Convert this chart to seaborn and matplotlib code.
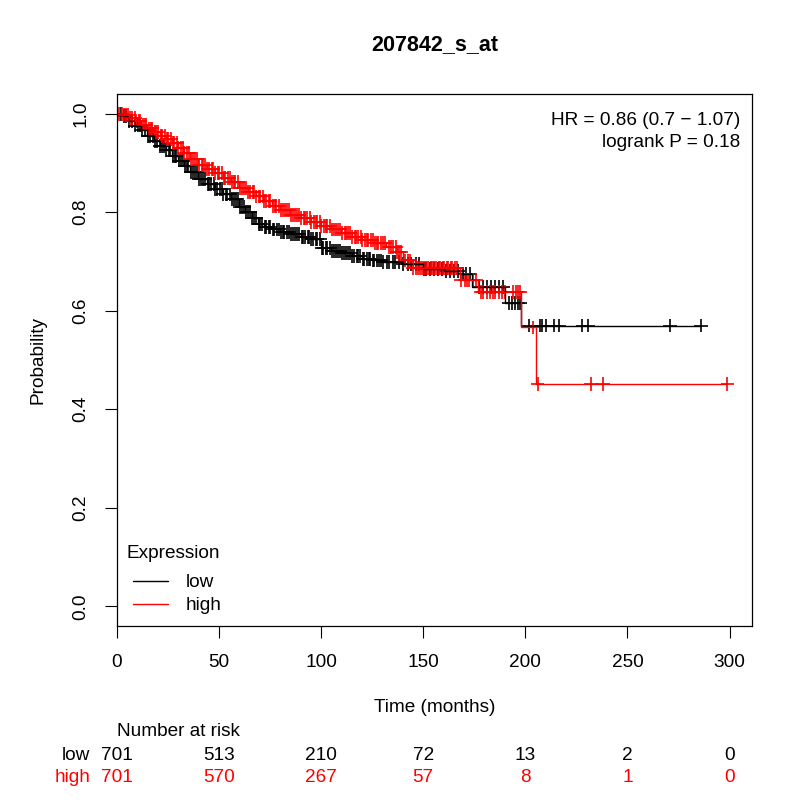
import numpy as np
import pandas as pd
import matplotlib
matplotlib.use("Agg")
import matplotlib.pyplot as plt
import matplotlib.transforms as mtransforms
import seaborn as sns

# Kaplan-Meier steps (time in months, survival after step)
low_times = [0, 3, 6, 9, 12, 15, 18, 21, 24, 27, 30, 33, 36, 40, 44, 48, 52, 56,
             60, 63, 66, 69, 72, 76, 80, 85, 90, 95, 100, 105, 110, 115, 120, 125,
             130, 140, 150, 160, 168, 174, 190, 198]
low_surv = [1.0, 0.995, 0.985, 0.976, 0.966, 0.955, 0.945, 0.935, 0.927, 0.915,
            0.905, 0.893, 0.882, 0.868, 0.857, 0.847, 0.836, 0.826, 0.81, 0.80,
            0.788, 0.776, 0.77, 0.765, 0.76, 0.755, 0.75, 0.745, 0.727, 0.722,
            0.718, 0.712, 0.705, 0.702, 0.699, 0.695, 0.685, 0.68, 0.675, 0.648,
            0.615, 0.570]
high_times = [0, 3, 6, 9, 12, 15, 18, 21, 24, 27, 30, 33, 36, 40, 44, 48, 52, 56,
              60, 64, 68, 72, 76, 80, 85, 90, 95, 100, 105, 110, 115, 120, 126,
              132, 137, 140, 145, 168, 177, 198, 205]
high_surv = [1.0, 0.997, 0.992, 0.986, 0.978, 0.970, 0.962, 0.955, 0.948, 0.94,
             0.93, 0.92, 0.908, 0.895, 0.887, 0.879, 0.870, 0.862, 0.849, 0.841,
             0.832, 0.823, 0.813, 0.804, 0.795, 0.788, 0.780, 0.772, 0.765, 0.757,
             0.749, 0.744, 0.738, 0.73, 0.72, 0.702, 0.686, 0.662, 0.638, 0.566,
             0.451]

# censoring times (+ marks), read as densely as the bands allow
low_censor = [2, 3.5, 4.6, 6.2, 7.4, 9.1, 10.3, 11.6, 12.4, 13.9, 15.2, 16.4,
              17.7, 18.8, 19.9, 21.2, 22.1, 23.3, 24.2, 25.4, 26.1, 27.3, 28.4,
              29.2, 30.5, 31.3, 32.2, 33.6, 34.4, 35.1, 36.3, 37.2, 38.5, 39.4,
              40.2, 41.3, 42.4, 43.1, 44.5, 45.2, 46.3, 47.4, 48.1, 49.2, 50.4,
              51.3, 52.2, 53.5, 54.1, 55.3, 56.4, 57.2, 58.3, 59.1, 60.4, 61.2,
              62.3, 63.5, 64.2, 65.1, 66.3, 67.4, 68.2, 69.5, 70.3, 71.1, 72.4,
              73.2, 74.3, 75.1, 76.4, 77.2, 78.3, 79.5, 80.2, 81.3, 82.1, 83.4,
              84.2, 85.3, 86.1, 87.4, 88.3, 89.2, 90.5, 91.1, 92.3, 93.4, 94.2,
              95.3, 96.1, 97.4, 98.2, 99.3, 100.5, 101.2, 102.4, 103.1, 104.3,
              105.2, 106.4, 107.1, 108.3, 109.2, 110.4, 111.3, 112.1, 113.4,
              114.2, 115.3, 116.1, 117.4, 118.3, 119.2, 120.4, 121.1, 122.3,
              123.4, 124.2, 125.3, 126.1, 127.4, 128.2, 129.3, 130.5, 132.1,
              133.4, 135.2, 136.3, 138.1, 140.2, 142.4, 144.1, 146.3, 148.2,
              150.4, 151.3, 153.2, 155.1, 157.3, 159.2, 161.4, 163.1, 165.3,
              167.2, 169.4, 171.2, 173.1, 177.3, 179.1, 181.2, 183.4, 185.1,
              187.3, 189.2, 192, 193.5, 195, 196.5, 197.5, 202, 207, 208.4, 210,
              214, 216.6, 228, 230.6, 271, 286]
high_censor = [1, 2.4, 3.3, 4.6, 5.4, 6.7, 7.5, 8.8, 9.6, 10.7, 11.5, 12.8, 13.6,
               14.4, 15.7, 16.5, 17.3, 18.6, 19.4, 20.2, 21.5, 22.3, 23.6, 24.4,
               25.2, 26.5, 27.3, 28.1, 29.4, 30.2, 31.5, 32.3, 33.1, 34.4, 35.2,
               36.5, 37.3, 38.1, 39.4, 40.2, 41.5, 42.3, 43.1, 44.4, 45.2, 46.5,
               47.3, 48.1, 49.4, 50.2, 51.5, 52.3, 53.1, 54.4, 55.2, 56.5, 57.3,
               58.1, 59.4, 60.2, 61.5, 62.3, 63.1, 64.4, 65.2, 66.5, 67.3, 68.1,
               69.4, 70.2, 71.5, 72.3, 73.1, 74.4, 75.2, 76.5, 77.3, 78.1, 79.4,
               80.2, 81.5, 82.3, 83.1, 84.4, 85.2, 86.5, 87.3, 88.1, 89.4, 90.2,
               91.5, 92.3, 93.1, 94.4, 95.2, 96.5, 97.3, 98.1, 99.4, 100.2, 101.5,
               102.3, 103.1, 104.4, 105.2, 106.5, 107.3, 108.1, 109.4, 110.2,
               111.5, 112.3, 113.1, 114.4, 115.2, 116.5, 117.3, 118.1, 119.4,
               120.2, 121.5, 122.3, 123.1, 124.4, 125.2, 126.5, 127.3, 128.1,
               129.4, 130.2, 131.5, 133.1, 134.4, 135.2, 136.5, 137.3, 138.4,
               139.2, 141.1, 142.4, 143.6, 145.2, 146.4, 147.5, 148.3, 149.6,
               150.4, 151.5, 152.3, 153.6, 154.4, 155.5, 156.3, 157.6, 158.4,
               159.5, 160.3, 161.6, 162.4, 163.5, 164.3, 165.6, 166.4, 168.5,
               170.3, 171.6, 172.4, 174.2, 176.1, 178.3, 179.5, 181.2, 182.6,
               184.1, 185.4, 187.2, 188.5, 190.1, 194.2, 195.3, 196.5, 197.6,
               204, 206, 232, 238, 299]

risk_times = [0, 50, 100, 150, 200, 250, 300]
risk_low = [701, 513, 210, 72, 13, 2, 0]
risk_high = [701, 570, 267, 57, 8, 1, 0]

groups = ["low", "high"]
colors = {"low": "black", "high": "#ff0000"}
FS = 13.7


def step_value(times, surv, t):
    idx = np.searchsorted(times, t, side="right") - 1
    return np.asarray(surv)[idx]


curve_rows = []
mark_rows = []
for g, tt, ss, cc in [("low", low_times, low_surv, low_censor),
                      ("high", high_times, high_surv, high_censor)]:
    tt_ext = list(tt) + [max(cc)]
    ss_ext = list(ss) + [ss[-1]]
    for t, s in zip(tt_ext, ss_ext):
        curve_rows.append({"time": t, "surv": s, "group": g})
    for c in cc:
        mark_rows.append({"time": c, "surv": step_value(tt, ss, c), "group": g})
curves = pd.DataFrame(curve_rows)
marks = pd.DataFrame(mark_rows)

sns.set_theme(style="ticks")
plt.rcParams["font.family"] = ["Liberation Sans", "DejaVu Sans"]
plt.rcParams["text.color"] = "black"
plt.rcParams["axes.labelcolor"] = "black"

fig = plt.figure(figsize=(8, 8), dpi=100)
ax = fig.add_axes([0.146, 0.2175, 0.794, 0.665])

sns.lineplot(data=curves, x="time", y="surv", hue="group", hue_order=groups,
             palette=colors, estimator=None, sort=False, drawstyle="steps-post",
             linewidth=1.0, ax=ax, legend=True)
sns.scatterplot(data=marks, x="time", y="surv", hue="group", hue_order=groups,
                palette=colors, marker="+", s=100, linewidth=1.2, ax=ax,
                legend=False)

ax.set_xlim(0, 311)
ax.set_ylim(-0.04, 1.04)
ax.set_xticks(risk_times)
ax.set_yticks([0, 0.2, 0.4, 0.6, 0.8, 1.0])
ax.set_yticklabels(["0.0", "0.2", "0.4", "0.6", "0.8", "1.0"], rotation=90,
                   va="center")
ax.tick_params(axis="both", direction="out", length=8.5, width=0.8,
               labelsize=FS, color="black", labelcolor="black")
ax.tick_params(axis="x", pad=12)
ax.tick_params(axis="y", pad=11)
for sp in ax.spines.values():
    sp.set_visible(True)
    sp.set_linewidth(0.9)
    sp.set_color("black")

ax.set_xlabel("Time (months)", fontsize=FS)
ax.xaxis.label.set_va("center")
ax.xaxis.set_label_coords(0.5, -0.1535)
ax.set_ylabel("Probability", fontsize=FS)
ax.yaxis.label.set_va("center")
ax.yaxis.set_label_coords(-0.124, 0.5)

ax.text(0.5, 1.092, "207842_s_at", transform=ax.transAxes, ha="center",
        va="center", fontsize=15.5, fontweight="bold")
ax.text(0.981, 0.951, "HR = 0.86 (0.7 \u2212 1.07)", transform=ax.transAxes,
        ha="right", va="center", fontsize=FS)
ax.text(0.981, 0.908, "logrank P = 0.18", transform=ax.transAxes,
        ha="right", va="center", fontsize=FS)

# legend: title as separate text, entries below
ax.text(0.016, 0.136, "Expression", transform=ax.transAxes, ha="left",
        va="center", fontsize=FS)
handles, labels = ax.get_legend_handles_labels()
leg = ax.legend(handles=handles, labels=labels, loc="center left",
                bbox_to_anchor=(0.0257, 0.060), frameon=False, fontsize=FS,
                borderpad=0, borderaxespad=0, handlelength=1.85,
                handletextpad=0.9, labelspacing=0.3)
for ln in leg.get_lines():
    ln.set_linewidth(1.0)
for txt in leg.get_texts():
    txt.set_color("black")

# number at risk table
blend = mtransforms.blended_transform_factory(ax.transData, ax.transAxes)
ax.text(0, -0.199, "Number at risk", transform=blend, ha="left", va="center",
        fontsize=FS)
for lbl, vals, yy in [("low", risk_low, -0.2443), ("high", risk_high, -0.2857)]:
    ax.text(-0.042, yy, lbl, transform=ax.transAxes, ha="right", va="center",
            fontsize=FS, color=colors[lbl])
    for t, v in zip(risk_times, vals):
        ax.text(t, yy, str(v), transform=blend, ha="center", va="center",
                fontsize=FS, color=colors[lbl])

fig.savefig("out.png", dpi=100)
